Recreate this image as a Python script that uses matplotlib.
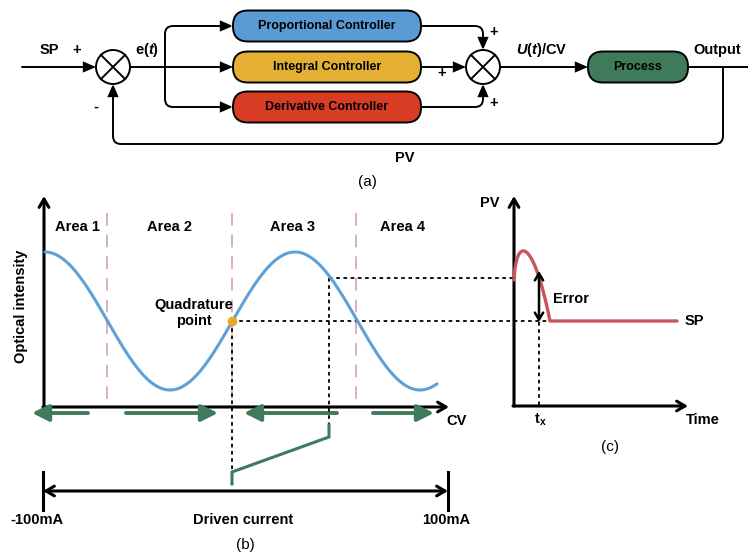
import numpy as np
import matplotlib
matplotlib.use("Agg")
import matplotlib.pyplot as plt
from matplotlib.patches import FancyBboxPatch, FancyArrowPatch, Circle
from matplotlib.path import Path

plt.rcParams['font.family'] = ['Liberation Sans', 'DejaVu Sans']
plt.rcParams['mathtext.fontset'] = 'custom'
plt.rcParams['mathtext.rm'] = 'Liberation Sans'
plt.rcParams['mathtext.bf'] = 'Liberation Sans:bold'
plt.rcParams['mathtext.it'] = 'Liberation Sans:italic'
plt.rcParams['mathtext.bfit'] = 'Liberation Sans:bold:italic'

# ---- data / labels ----
controllers = ['Proportional Controller', 'Integral Controller', 'Derivative Controller']
ctrl_colors = ['#5b9bd5', '#e4b033', '#d83c25']
area_labels = ['Area 1', 'Area 2', 'Area 3', 'Area 4']
range_labels = ['-100mA', 'Driven current', '100mA']
# schematic transfer curve (pixel units): start, end, period, mid level, amplitude
cv_start, cv_end = 45, 437
period, mid_level, amplitude = 250, 321, 69
# PV step response key points (t, PV) for bezier
pv_ctrl = [(514, 280), (516, 236), (533, 236), (550, 321)]
pv_settle_end = 677

GREEN = '#3f7a5a'
PINK = '#d9a9b9'
BLUE = '#5ea1d8'
RED = '#c8555a'
ORANGE = '#e8a92c'

fig = plt.figure(figsize=(7.48, 5.54), dpi=100)
ax = fig.add_axes([0, 0, 1, 1])
ax.set_xlim(0, 748)
ax.set_ylim(554, 0)
ax.axis('off')

FS = 10.5


def rpath(pts, r=8):
    verts = [pts[0]]
    codes = [Path.MOVETO]
    for i in range(1, len(pts) - 1):
        p0, p1, p2 = np.array(pts[i - 1], float), np.array(pts[i], float), np.array(pts[i + 1], float)
        d1 = (p1 - p0) / np.linalg.norm(p1 - p0)
        d2 = (p2 - p1) / np.linalg.norm(p2 - p1)
        verts += [tuple(p1 - d1 * r), tuple(p1), tuple(p1 + d2 * r)]
        codes += [Path.LINETO, Path.CURVE3, Path.CURVE3]
    verts.append(pts[-1])
    codes.append(Path.LINETO)
    return Path(verts, codes)


def arrow_path(pts, head=True, lw=1.4, color='k', r=8):
    style = '-|>,head_length=0.7,head_width=0.3' if head else '-'
    p = FancyArrowPatch(path=rpath(pts, r), arrowstyle=style, mutation_scale=10,
                        color=color, lw=lw, joinstyle='miter')
    ax.add_patch(p)


def pill(x0, x1, yc, h, color, label):
    b = FancyBboxPatch((x0, yc - h / 2), x1 - x0, h,
                       boxstyle='round,pad=0,rounding_size=%f' % (h / 2 - 0.5),
                       fc=color, ec='k', lw=1.4, zorder=3)
    ax.add_patch(b)
    ax.text((x0 + x1) / 2, yc, label, ha='center', va='center', fontsize=9,
            fontweight='bold', zorder=4)


def summer(xc, yc, r=17):
    ax.add_patch(Circle((xc, yc), r, fc='white', ec='k', lw=1.4, zorder=3))
    k = r * 0.707
    ax.plot([xc - k, xc + k], [yc - k, yc + k], color='k', lw=1.4, zorder=4)
    ax.plot([xc - k, xc + k], [yc + k, yc - k], color='k', lw=1.4, zorder=4)


# ================= (a) block diagram =================
box_y = [26, 67, 107]
for lab, col, yc in zip(controllers, ctrl_colors, box_y):
    pill(233, 421, yc, 31, col, lab)
pill(588, 688, 67, 31, GREEN, 'Process')
summer(113, 67)
summer(483, 67)

arrow_path([(22, 67), (96, 67)])
arrow_path([(130, 67), (233, 67)])
arrow_path([(165, 67), (165, 26), (233, 26)])
arrow_path([(165, 67), (165, 107), (233, 107)])
arrow_path([(421, 26), (483, 26), (483, 50)])
arrow_path([(421, 67), (466, 67)])
arrow_path([(421, 107), (483, 107), (483, 84)])
arrow_path([(500, 67), (588, 67)])
arrow_path([(688, 67), (748, 67)], head=False)
arrow_path([(723, 67), (723, 144), (113, 144), (113, 84)])

ax.text(49, 50, 'SP', ha='center', va='center', fontsize=FS, fontweight='bold')
ax.text(77, 50, '+', ha='center', va='center', fontsize=FS, fontweight='bold')
ax.text(147, 50, r'e($\mathbfit{t}$)', ha='center', va='center', fontsize=FS, fontweight='bold')
ax.text(96, 107, '-', ha='center', va='center', fontsize=FS, fontweight='bold')
ax.text(494, 32, '+', ha='center', va='center', fontsize=FS, fontweight='bold')
ax.text(442, 73, '+', ha='center', va='center', fontsize=FS, fontweight='bold')
ax.text(494, 103, '+', ha='center', va='center', fontsize=FS, fontweight='bold')
ax.text(542, 50, r'$\mathbfit{U}$($\mathbfit{t}$)/CV', ha='center', va='center',
        fontsize=FS, fontweight='bold')
ax.text(717, 50, 'Output', ha='center', va='center', fontsize=FS, fontweight='bold')
ax.text(405, 158, 'PV', ha='center', va='center', fontsize=FS, fontweight='bold')
ax.text(367, 182, '(a)', ha='center', va='center', fontsize=11)

# ================= (b) transfer curve =================
axis_style = '->,head_length=0.6,head_width=0.35'
ax.add_patch(FancyArrowPatch((44, 407), (44, 196), arrowstyle=axis_style,
                             mutation_scale=10, color='k', lw=2.2, shrinkA=0, shrinkB=0))
ax.add_patch(FancyArrowPatch((43, 407), (449, 407), arrowstyle=axis_style,
                             mutation_scale=10, color='k', lw=2.2, shrinkA=0, shrinkB=0))
ax.text(457, 421, 'CV', ha='center', va='center', fontsize=FS, fontweight='bold')
ax.text(21, 306, 'Optical intensity', ha='center', va='center', rotation=90,
        fontsize=FS, fontweight='bold')

for xv in [107, 232, 356]:
    ax.plot([xv, xv], [213, 403], color=PINK, lw=1.3, ls=(0, (7, 5)))
for lab, xv in zip(area_labels, [77, 170, 293, 403]):
    ax.text(xv, 227, lab, ha='center', va='center', fontsize=FS, fontweight='bold')

cv = np.linspace(cv_start, cv_end, 400)
intensity = mid_level - amplitude * np.cos(2 * np.pi * (cv - cv_start) / period)
ax.plot(cv, intensity, color=BLUE, lw=2.2, solid_capstyle='round', zorder=3)

# quadrature point
q_x = cv_start + 0.75 * period
ax.plot([q_x], [mid_level], 'o', color=ORANGE, ms=6, zorder=5)
ax.text(194, 313, 'Quadrature\npoint', ha='center', va='center', fontsize=FS,
        fontweight='bold', linespacing=1.25)

dot = (0, (2, 2))
ax.plot([q_x, 551], [mid_level, mid_level], color='k', lw=1.3, ls=dot)
ax.plot([329, 514], [278, 278], color='k', lw=1.3, ls=dot)
ax.plot([329, 329], [278, 437], color='k', lw=1.3, ls=dot)
ax.plot([q_x, q_x], [mid_level, 472], color='k', lw=1.3, ls=dot)

# green control arrows under axis
green_style = '-|>,head_length=1.0,head_width=0.5'
for x0, x1 in [(88, 32), (126, 218), (337, 244), (373, 434)]:
    ax.add_patch(FancyArrowPatch((x0, 413), (x1, 413), arrowstyle=green_style,
                                 mutation_scale=10, color=GREEN, lw=2.8, shrinkA=0, shrinkB=0))

# green driving signal
ax.plot([329, 329, 232, 232], [425, 437, 472, 484], color=GREEN, lw=2.2,
        solid_joinstyle='miter')

# driven current range
ax.add_patch(FancyArrowPatch((43, 491), (448, 491), arrowstyle='<->,head_length=0.6,head_width=0.35',
                             mutation_scale=10, color='k', lw=2.2, shrinkA=0, shrinkB=0))
ax.plot([43, 43], [472, 510], color='k', lw=2.2)
ax.plot([448, 448], [472, 510], color='k', lw=2.2)
for lab, xv in zip(range_labels, [37, 243, 446]):
    ax.text(xv, 520, lab, ha='center', va='center', fontsize=FS, fontweight='bold')
ax.text(245, 545, '(b)', ha='center', va='center', fontsize=11)

# ================= (c) step response =================
ax.add_patch(FancyArrowPatch((514, 406), (514, 196), arrowstyle=axis_style,
                             mutation_scale=10, color='k', lw=2.2, shrinkA=0, shrinkB=0))
ax.add_patch(FancyArrowPatch((513, 406), (688, 406), arrowstyle=axis_style,
                             mutation_scale=10, color='k', lw=2.2, shrinkA=0, shrinkB=0))
ax.text(490, 203, 'PV', ha='center', va='center', fontsize=FS, fontweight='bold')
ax.text(703, 420, 'Time', ha='center', va='center', fontsize=FS, fontweight='bold')
ax.text(540, 420, r'$\mathbf{t_x}$', ha='center', va='center', fontsize=FS)

pv_path = Path(pv_ctrl + [(pv_settle_end, 321)],
               [Path.MOVETO, Path.CURVE4, Path.CURVE4, Path.CURVE4, Path.LINETO])
ax.add_patch(FancyArrowPatch(path=pv_path, arrowstyle='-', color=RED, lw=2.4, zorder=3))
ax.text(694, 321, 'SP', ha='center', va='center', fontsize=FS, fontweight='bold')

ax.add_patch(FancyArrowPatch((539, 322), (539, 271), arrowstyle='<->,head_length=0.5,head_width=0.3',
                             mutation_scale=10, color='k', lw=1.8, shrinkA=0, shrinkB=0, zorder=4))
ax.text(571, 299, 'Error', ha='center', va='center', fontsize=FS, fontweight='bold')
ax.plot([539, 539], [322, 405], color='k', lw=1.3, ls=dot)
ax.text(610, 447, '(c)', ha='center', va='center', fontsize=11)

fig.savefig('out.png', dpi=100)
